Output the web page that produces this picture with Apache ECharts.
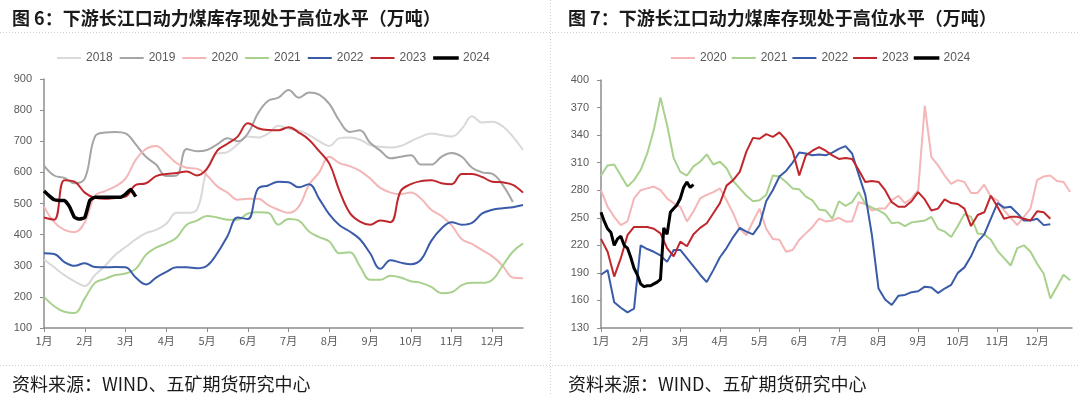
<!DOCTYPE html>
<html><head><meta charset="utf-8">
<script src="https://cdn.jsdelivr.net/npm/echarts@6/dist/echarts.min.js"></script>
<style>html,body{margin:0;padding:0;background:#fff}#c{width:1080px;height:395px}</style>
</head><body><div id="c"></div><script>
// ---------- text ----------
const title1 = '图 6：下游长江口动力煤库存现处于高位水平（万吨）';
const title2 = '图 7：下游长江口动力煤库存现处于高位水平（万吨）';
const sourceText = '资料来源：WIND、五矿期货研究中心';
const monthLabels = ['1月','2月','3月','4月','5月','6月','7月','8月','9月','10月','11月','12月'];
const monthTicks = [0,1,2,3,4,5,6,7,8,9,10,11];
const y1Ticks = [100,200,300,400,500,600,700,800,900];
const y2Ticks = [130,160,190,220,250,280,310,340,370,400];
const names1 = ['2018','2019','2020','2021','2022','2023','2024'];
const names2 = ['2020','2021','2022','2023','2024'];

// ---------- chart 6 data (x step = 1/4 month) ----------
const c1Step = 0.25;
const c1_2018 = [320,295,270,250,235,270,300,335,360,385,405,415,435,470,470,480,610,660,665,690,715,712,725,750,740,735,720,700,685,710,712,705,688,682,680,685,700,715,725,720,715,740,780,760,763,748,715,672];
const c1_2019 = [622,590,582,565,580,715,728,730,725,690,650,625,588,590,675,668,672,690,710,700,725,790,830,840,865,840,857,850,820,765,730,735,695,670,645,650,655,625,625,650,662,650,615,600,595,560,505];
const c1_2020 = [490,440,415,408,440,525,540,555,580,640,675,685,660,630,615,612,590,555,535,512,515,515,495,480,470,490,560,600,650,630,620,605,580,550,535,530,535,515,480,460,430,385,370,350,330,300,262,260];
const c1_2021 = [200,170,152,148,195,245,258,270,275,290,335,358,372,390,432,445,460,455,448,448,468,472,470,432,450,445,410,392,378,340,343,298,255,255,268,262,250,245,232,212,215,238,245,245,255,300,345,372];
const c1_2022 = [340,338,312,300,308,296,295,296,295,262,240,262,280,295,295,292,300,340,395,455,450,548,558,570,568,552,562,515,465,430,410,385,340,290,318,310,305,320,380,420,440,432,438,468,480,485,488,495];
const c1_2023 = [455,448,575,570,535,518,515,518,522,560,565,588,595,598,603,590,612,670,692,715,758,742,736,735,745,728,705,668,628,540,470,442,432,445,440,540,562,572,575,565,562,595,595,585,570,568,560,535];
const c1Step24 = 0.125;
const c1_2024 = [540,525,512,510,510,490,455,450,455,510,520,520,520,520,520,520,530,545,522];

// ---------- chart 7 data (x step = 1/6 month) ----------
const c2Step = 1/6;
const c2_2020 = [280,262,251,242,246,271,280,282,284,280,271,266,262,246,257,271,275,278,282,
  269,255,238,231,246,260,238,227,226,213,215,226,233,240,249,246,247,250,
  246,246,267,265,258,260,260,269,274,266,271,280,372,316,307,296,287,291,
  289,277,277,286,273,269,258,250,242,251,260,291,295,296,290,289,278];
const c2_2021 = [296,307,308,296,284,291,302,320,346,381,351,315,300,296,306,311,319,308,311,
  304,290,282,274,268,269,275,296,295,289,282,281,273,269,259,258,249,268,
  263,267,278,265,261,258,254,244,245,241,245,246,247,251,238,235,229,241,
  254,251,233,232,226,214,206,198,217,220,213,200,189,162,175,188,182];
const c2_2022 = [188,193,158,152,147,151,220,216,213,209,202,215,215,206,197,188,180,193,207,
  217,229,239,235,232,242,268,280,295,301,310,321,320,318,319,318,321,325,
  328,320,297,275,231,173,161,155,165,166,169,170,175,174,168,173,177,190,
  196,208,224,232,249,266,261,262,255,247,247,249,242,243];
const c2_2023 = [227,213,186,206,231,240,240,240,238,233,217,208,224,219,232,239,244,255,266,
  285,291,300,322,337,336,341,338,343,335,323,296,318,323,327,323,318,314,
  315,314,302,289,290,289,280,267,262,262,268,278,270,258,260,270,266,265,
  260,241,253,256,274,262,249,251,251,249,247,257,256,249];
const c2Step24 = 1/12;
const c2_2024 = [256,246,238,234,220,227,230,220,217,207,195,188,178,175,176,176,178,180,183,239,232,256,260,264,271,283,289,283,286];

// ---------- styles ----------
const colors = {'2018':'#d9d9d9','2019':'#a5a5a5','2020':'#f4b6b6','2021':'#a9d18e','2022':'#3a5ba8','2023':'#c0272d','2024':'#000000'};
const FONT = '"Noto Sans CJK SC","Noto Sans",sans-serif';
const NUM = '"Liberation Sans","Noto Sans",sans-serif';
const axisCol = '#8c8c8c';
const labCol = '#595959';

function mk(arr, step){ return arr.map((v,i)=>[i*step, v]); }

const c1 = {'2018':[c1_2018,c1Step],'2019':[c1_2019,c1Step],'2020':[c1_2020,c1Step],'2021':[c1_2021,c1Step],'2022':[c1_2022,c1Step],'2023':[c1_2023,c1Step],'2024':[c1_2024,c1Step24]};
const c2 = {'2020':[c2_2020,c2Step],'2021':[c2_2021,c2Step],'2022':[c2_2022,c2Step],'2023':[c2_2023,c2Step],'2024':[c2_2024,c2Step24]};

const series = [];
names1.forEach(n=>{
  series.push({name:n,type:'line',xAxisIndex:0,yAxisIndex:0,symbol:'none',smooth:n==='2024'?0.15:0.4,
    data:mk(c1[n][0],c1[n][1]),
    lineStyle:{color:colors[n],width:n==='2024'?3.5:2},itemStyle:{color:colors[n]}});
});
names2.forEach(n=>{
  series.push({name:n,type:'line',xAxisIndex:1,yAxisIndex:1,symbol:'none',smooth:false,
    data:mk(c2[n][0],c2[n][1]),
    lineStyle:{color:colors[n],width:n==='2024'?3:2},itemStyle:{color:colors[n]}});
});

function xAx(gi, max){
  return {type:'value',gridIndex:gi,min:0,max:max,
    axisLine:{show:true,lineStyle:{color:axisCol,width:1.5}},
    axisTick:{show:true,customValues:monthTicks,length:4,lineStyle:{color:axisCol}},
    axisLabel:{customValues:monthTicks,formatter:v=>monthLabels[Math.round(v)],color:labCol,fontSize:11,fontFamily:FONT,margin:7},
    splitLine:{show:false}};
}
function yAx(gi, min, max, ticks){
  return {type:'value',gridIndex:gi,min:min,max:max,
    axisLine:{show:true,lineStyle:{color:axisCol,width:1.5}},
    axisTick:{show:true,customValues:ticks,length:4,lineStyle:{color:axisCol}},
    axisLabel:{customValues:ticks,color:labCol,fontSize:11,fontFamily:NUM,margin:12},
    splitLine:{show:false}};
}

function legendData(names){
  return names.map(n=>({name:n,icon:'rect',
    itemStyle:{color:colors[n],borderColor:colors[n],borderWidth:n==='2024'?1.6:0}}));
}
const legendCommon = {itemWidth:24,itemHeight:2,textStyle:{color:labCol,fontSize:12,fontFamily:NUM},top:47};

const option = {
  animation:false,
  backgroundColor:'#ffffff',
  title:[
    {text:title1,left:7,top:4,textStyle:{fontSize:18,fontWeight:'bold',color:'#1a1a1a',fontFamily:FONT}},
    {text:title2,left:563,top:4,textStyle:{fontSize:18,fontWeight:'bold',color:'#1a1a1a',fontFamily:FONT}},
    {text:sourceText,left:7,top:370,textStyle:{fontSize:18,fontWeight:'normal',color:'#1a1a1a',fontFamily:FONT}},
    {text:sourceText,left:563,top:370,textStyle:{fontSize:18,fontWeight:'normal',color:'#1a1a1a',fontFamily:FONT}}
  ],
  legend:[
    Object.assign({data:legendData(names1),left:52,itemGap:7},legendCommon),
    Object.assign({data:legendData(names2),left:666,itemGap:5},legendCommon)
  ],
  grid:[
    {left:44,top:79,width:479,height:249},
    {left:601,top:80,width:471,height:248}
  ],
  xAxis:[xAx(0,11.75),xAx(1,11.88)],
  yAxis:[yAx(0,100,900,y1Ticks),yAx(1,130,400,y2Ticks)],
  graphic:[
    {type:'line',shape:{x1:0,y1:32.5,x2:1080,y2:32.5},style:{stroke:'#cfcfcf',lineWidth:1,lineDash:[1,2]},silent:true},
    {type:'line',shape:{x1:0,y1:365.5,x2:1080,y2:365.5},style:{stroke:'#cfcfcf',lineWidth:1,lineDash:[1,2]},silent:true},
    {type:'line',shape:{x1:550.5,y1:0,x2:550.5,y2:395},style:{stroke:'#cfcfcf',lineWidth:1,lineDash:[1,2]},silent:true}
  ],
  series:series
};
const chart = echarts.init(document.getElementById('c'),null,{renderer:'canvas'});
chart.setOption(option);
</script></body></html>
